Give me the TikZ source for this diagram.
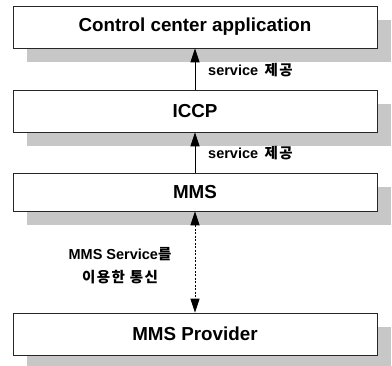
\documentclass[tikz,border=0pt]{standalone}
\usepackage{fontspec}
\setmainfont{Liberation Sans}
\newfontfamily\krfont{Noto Sans CJK KR}[LetterSpace=10]
\usetikzlibrary{arrows.meta,shadows}
\begin{document}
\begin{tikzpicture}[x=1pt,y=-1pt,
  layerbox/.style={draw=black!85,line width=0.6pt,fill=white,minimum width=364pt,inner sep=0pt,
    font=\fontsize{18.8}{20}\selectfont\bfseries,
    drop shadow={shadow xshift=14pt,shadow yshift=-14pt,fill=black!22,opacity=1}},
  lbl/.style={font=\fontsize{14.5}{16}\selectfont\bfseries,inner sep=0pt},
  solidarr/.style={line width=0.9pt,-{Triangle[width=9pt,length=14pt]}},
  dasharr/.style={line width=0.9pt,dash pattern=on 2pt off 1.5pt,{Triangle[width=9pt,length=14pt]}-{Triangle[width=9pt,length=14pt]}}]
\useasboundingbox (0,0) rectangle (392,366);
\node[layerbox,minimum height=42pt] (app) at (195,27) {Control center application};
\node[layerbox,minimum height=42pt] (iccp) at (195,111) {ICCP};
\node[layerbox,minimum height=38pt] (mms) at (195,192) {MMS};
\node[layerbox,minimum height=42pt] (prov) at (195,334) {MMS Provider};
\draw[solidarr] (iccp.north) -- (app.south);
\draw[solidarr] (mms.north) -- (iccp.south);
\draw[dasharr] (mms.south) -- (prov.north);
\node[lbl,anchor=west] (l1) at (208,70) {service\, {\krfont\bfseries 제공}};
\node[lbl,anchor=west] (l2) at (208,153) {service\, {\krfont\bfseries 제공}};
\node[lbl,align=center,font=\fontsize{14.5}{23}\selectfont\bfseries] (l3) at (120,266) {MMS Service{\krfont\bfseries 를}\\{\krfont\bfseries 이용한 통신}};
\end{tikzpicture}
\end{document}
